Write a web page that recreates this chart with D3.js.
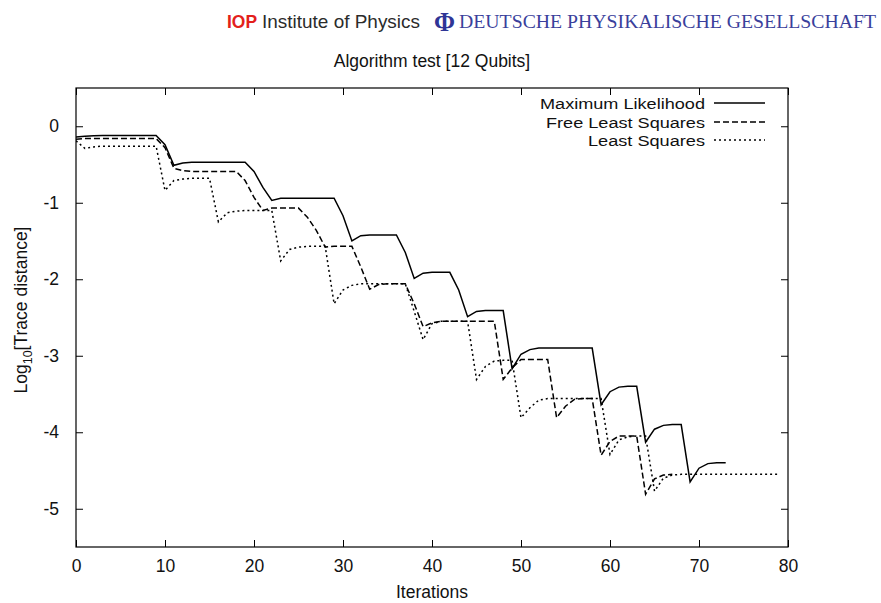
<!DOCTYPE html>
<html>
<head>
<meta charset="utf-8">
<script src="https://cdn.jsdelivr.net/npm/d3@7"></script>
<style>
  html, body { margin: 0; padding: 0; background: #fff; }
  svg { display: block; }
  text { font-family: "Liberation Sans", Arial, Helvetica, sans-serif; }
</style>
</head>
<body>
<svg id="chart" width="881" height="603"></svg>
<script>
// ---------------- data ----------------
const title = "Algorithm test [12 Qubits]";
const xLabel = "Iterations";
const seriesNames = ["Maximum Likelihood", "Free Least Squares", "Least Squares"];
const xTicks = [0, 10, 20, 30, 40, 50, 60, 70, 80];
const yTicks = [0, -1, -2, -3, -4, -5];

// Maximum Likelihood, iterations 0..73
const mlValues = [
  -0.14, -0.13, -0.125, -0.12, -0.12, -0.12, -0.12, -0.12, -0.12, -0.12,
  -0.24, -0.51, -0.48, -0.47, -0.47, -0.47, -0.47, -0.47, -0.47, -0.47,
  -0.59, -0.80, -0.97, -0.94, -0.94, -0.94, -0.94, -0.94, -0.94, -0.94,
  -1.17, -1.50, -1.43, -1.42, -1.42, -1.42, -1.42, -1.65, -1.99, -1.92,
  -1.91, -1.91, -1.91, -2.14, -2.49, -2.42, -2.41, -2.41, -2.41, -3.17,
  -2.98, -2.92, -2.90, -2.90, -2.90, -2.90, -2.90, -2.90, -2.90, -3.64,
  -3.47, -3.41, -3.40, -3.40, -4.13, -3.96, -3.91, -3.90, -3.90, -4.65,
  -4.47, -4.41, -4.40, -4.40
];
// Free Least Squares, iterations 0..67
const flsValues = [
  -0.17, -0.16, -0.16, -0.16, -0.16, -0.16, -0.16, -0.16, -0.16, -0.16,
  -0.28, -0.55, -0.58, -0.59, -0.59, -0.59, -0.59, -0.59, -0.59, -0.71,
  -0.93, -1.10, -1.07, -1.07, -1.07, -1.07, -1.19, -1.36, -1.58, -1.57,
  -1.57, -1.57, -1.84, -2.13, -2.07, -2.06, -2.06, -2.06, -2.32, -2.62,
  -2.57, -2.55, -2.55, -2.55, -2.55, -2.55, -2.55, -2.55, -3.31, -3.16,
  -3.05, -3.05, -3.05, -3.05, -3.81, -3.66, -3.57, -3.56, -3.56, -4.30,
  -4.12, -4.05, -4.05, -4.05, -4.81, -4.61, -4.56, -4.55
];
// Least Squares, iterations 0..79
const lsValues = [
  -0.19, -0.29, -0.27, -0.26, -0.26, -0.26, -0.26, -0.26, -0.26, -0.26,
  -0.84, -0.71, -0.69, -0.68, -0.68, -0.68, -1.25, -1.13, -1.11, -1.10,
  -1.10, -1.10, -1.10, -1.76, -1.61, -1.58, -1.57, -1.57, -1.57, -2.32,
  -2.14, -2.08, -2.06, -2.06, -2.06, -2.06, -2.06, -2.06, -2.42, -2.79,
  -2.58, -2.55, -2.55, -2.55, -2.55, -3.31, -3.14, -3.07, -3.06, -3.06,
  -3.81, -3.68, -3.58, -3.56, -3.56, -3.56, -3.56, -3.56, -3.56, -3.56,
  -4.29, -4.10, -4.06, -4.05, -4.05, -4.77, -4.60, -4.56, -4.55, -4.55,
  -4.55, -4.55, -4.55, -4.55, -4.55, -4.55, -4.55, -4.55, -4.55, -4.55
];

// ---------------- layout ----------------
const svg = d3.select("#chart");
const L = 76, R = 788, T = 88, B = 547;
const FS = "17.5px";
const x = d3.scaleLinear().domain([0, 80]).range([L, R]);
const y = d3.scaleLinear().domain([-5.5, 0.5]).range([B, T]);

// header logos
const hdr = svg.append("g");
hdr.append("text").attr("x", 227).attr("y", 28)
  .style("font-weight", "bold").style("font-size", "19px").attr("fill", "#e3201b")
  .attr("textLength", 30).attr("lengthAdjust", "spacingAndGlyphs")
  .text("IOP");
hdr.append("text").attr("x", 262).attr("y", 28)
  .style("font-size", "19px").attr("fill", "#2b2b2b")
  .attr("textLength", 158).attr("lengthAdjust", "spacingAndGlyphs")
  .text("Institute of Physics");
hdr.append("text").attr("x", 434).attr("y", 31)
  .style("font-family", "'Liberation Serif', 'DejaVu Serif', serif")
  .style("font-weight", "bold").style("font-size", "27px").attr("fill", "#2f3596")
  .attr("textLength", 21).attr("lengthAdjust", "spacingAndGlyphs")
  .text("Φ");
hdr.append("text").attr("x", 459).attr("y", 28)
  .style("font-family", "'Liberation Serif', 'DejaVu Serif', serif")
  .style("font-size", "18.5px").attr("fill", "#3a3f9c")
  .attr("textLength", 417).attr("lengthAdjust", "spacingAndGlyphs")
  .text("DEUTSCHE PHYSIKALISCHE GESELLSCHAFT");

// title
svg.append("text").attr("x", 432).attr("y", 67).attr("text-anchor", "middle")
  .style("font-size", FS).attr("fill", "#111").text(title);

// frame
svg.append("rect").attr("x", L).attr("y", T).attr("width", R - L).attr("height", B - T)
  .attr("fill", "none").attr("stroke", "#000").attr("stroke-width", 1.2);

// axes (ticks inward on all four sides)
const tickLen = 7;
const gxB = svg.append("g").attr("transform", `translate(0,${B})`)
  .call(d3.axisBottom(x).tickValues(xTicks).tickSize(-tickLen).tickPadding(13).tickFormat(d3.format("d")));
const gxT = svg.append("g").attr("transform", `translate(0,${T})`)
  .call(d3.axisTop(x).tickValues(xTicks).tickSize(-tickLen).tickFormat(""));
const gyL = svg.append("g").attr("transform", `translate(${L},0)`)
  .call(d3.axisLeft(y).tickValues(yTicks).tickSize(-tickLen).tickPadding(17).tickFormat(d => d === 0 ? "0" : "-" + Math.abs(d)));
const gyR = svg.append("g").attr("transform", `translate(${R},0)`)
  .call(d3.axisRight(y).tickValues(yTicks).tickSize(-tickLen).tickFormat(""));
[gxB, gxT, gyL, gyR].forEach(g => {
  g.select(".domain").remove();
  g.selectAll(".tick line").attr("stroke", "#000").attr("stroke-width", 1);
  g.selectAll(".tick text").style("font-size", FS).style("font-family", "'Liberation Sans', Arial, sans-serif").attr("fill", "#111");
});

// axis labels
svg.append("text").attr("x", 432).attr("y", 598).attr("text-anchor", "middle")
  .style("font-size", FS).attr("fill", "#111").text(xLabel);
const yl = svg.append("text").attr("transform", "translate(27,310) rotate(-90)")
  .attr("text-anchor", "middle").style("font-size", FS).attr("fill", "#111");
yl.append("tspan").text("Log");
yl.append("tspan").attr("dy", 5).style("font-size", "12.5px").text("10");
yl.append("tspan").attr("dy", -5).text("[Trace distance]");

// series
const styles = [
  { dash: null, width: 1.5 },
  { dash: "6,3", width: 1.5 },
  { dash: "2,3", width: 1.5 }
];
const allSeries = [mlValues, flsValues, lsValues];
const line = d3.line().x((d, i) => x(i)).y(d => y(d));
svg.append("clipPath").attr("id", "clip")
  .append("rect").attr("x", L).attr("y", T).attr("width", R - L).attr("height", B - T);
allSeries.forEach((vals, k) => {
  svg.append("path").datum(vals)
    .attr("d", line)
    .attr("fill", "none").attr("stroke", "#000")
    .attr("stroke-width", styles[k].width)
    .attr("stroke-dasharray", styles[k].dash)
    .attr("stroke-linejoin", "miter")
    .attr("clip-path", "url(#clip)");
});

// legend
const legY = [103, 122, 140];
const legLen = [165, 159, 117];
seriesNames.forEach((name, k) => {
  svg.append("text").attr("x", 705).attr("y", legY[k] + 5.5).attr("text-anchor", "end")
    .style("font-size", "15.5px").attr("fill", "#111")
    .attr("textLength", legLen[k]).attr("lengthAdjust", "spacingAndGlyphs")
    .text(name);
  svg.append("line").attr("x1", 714).attr("x2", 765).attr("y1", legY[k]).attr("y2", legY[k])
    .attr("stroke", "#000").attr("stroke-width", styles[k].width)
    .attr("stroke-dasharray", styles[k].dash);
});
</script>
</body>
</html>
